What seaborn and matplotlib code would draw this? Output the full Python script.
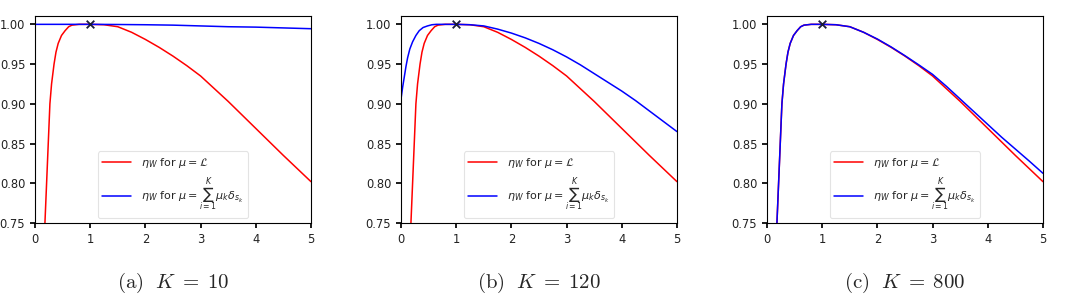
import numpy as np
import pandas as pd
import matplotlib
matplotlib.use("Agg")
import matplotlib.pyplot as plt
import seaborn as sns

# ---- data ----
panel_labels = ["(a)", "(b)", "(c)"]
K_values = [10, 120, 800]

# red: eta_W for mu = Lebesgue (same in all panels)
red_x = [0.15, 0.18, 0.21, 0.24, 0.27, 0.30, 0.345, 0.38, 0.42, 0.48, 0.545, 0.61, 0.67, 0.8, 1.0,
         1.25, 1.5, 1.75, 2.0, 2.25, 2.5, 2.75, 3.0, 3.25, 3.5, 3.75, 4.0, 4.25, 4.5, 4.75, 5.0]
red_y = [0.69, 0.75, 0.80, 0.85, 0.90, 0.925, 0.95, 0.965, 0.976, 0.986, 0.992, 0.997, 0.999, 1.0, 1.0,
         0.9995, 0.997, 0.990, 0.981, 0.971, 0.960, 0.948, 0.935, 0.919, 0.903, 0.886, 0.869, 0.852, 0.835, 0.8185, 0.802]

# blue: eta_W for discrete mu, one per panel
blue10_x = [0.0, 0.5, 1.0, 1.5, 2.0, 2.5, 3.0, 3.5, 4.0, 4.5, 5.0]
blue10_y = [1.0, 1.0, 1.0, 0.9998, 0.9995, 0.999, 0.998, 0.997, 0.9965, 0.9955, 0.9945]

blue120_x = [0.0, 0.03, 0.06, 0.09, 0.12, 0.16, 0.21, 0.27, 0.33, 0.40, 0.48, 0.56, 0.64, 0.8, 1.0,
             1.25, 1.5, 1.75, 2.0, 2.25, 2.5, 2.75, 3.0, 3.25, 3.5, 3.75, 4.0, 4.25, 4.5, 4.75, 5.0]
blue120_y = [0.906, 0.921, 0.934, 0.947, 0.958, 0.969, 0.978, 0.986, 0.992, 0.996, 0.998, 0.9995, 1.0, 1.0, 1.0,
             0.9995, 0.998, 0.994, 0.989, 0.983, 0.976, 0.968, 0.959, 0.949, 0.938, 0.927, 0.916, 0.904, 0.891, 0.878, 0.865]

blue800_x = [0.15, 0.18, 0.21, 0.24, 0.27, 0.30, 0.345, 0.38, 0.42, 0.48, 0.545, 0.61, 0.67, 0.8, 1.0,
             1.25, 1.5, 1.75, 2.0, 2.25, 2.5, 2.75, 3.0, 3.25, 3.5, 3.75, 4.0, 4.25, 4.5, 4.75, 5.0]
blue800_y = [0.69, 0.75, 0.80, 0.85, 0.90, 0.925, 0.95, 0.965, 0.976, 0.986, 0.992, 0.997, 0.999, 1.0, 1.0,
             0.9995, 0.997, 0.990, 0.9815, 0.9715, 0.9605, 0.949, 0.937, 0.922, 0.906, 0.890, 0.874, 0.858, 0.843, 0.828, 0.8125]

blue_x = [blue10_x, blue120_x, blue800_x]
blue_y = [blue10_y, blue120_y, blue800_y]

optimum_x = [1.0]
optimum_y = [1.0]

x_ticks = [0, 1, 2, 3, 4, 5]
y_ticks = [0.75, 0.80, 0.85, 0.90, 0.95, 1.00]

lab_red = r"$\eta_W$ for $\mu = \mathcal{L}$"
lab_blue = r"$\eta_W$ for $\mu = \sum_{i=1}^{K}\mu_k\delta_{s_k}$"

# ---- plotting ----
sns.set_theme(style="ticks", rc={
    "axes.edgecolor": "black",
    "axes.linewidth": 0.8,
    "xtick.color": "black",
    "ytick.color": "black",
    "xtick.labelcolor": "#222222",
    "ytick.labelcolor": "#222222",
    "xtick.major.size": 3.5,
    "ytick.major.size": 3.5,
    "xtick.labelsize": 8.3,
    "ytick.labelsize": 8.3,
})
plt.rcParams["mathtext.fontset"] = "dejavusans"

W, H = 1077, 296
fig = plt.figure(figsize=(W / 100, H / 100), dpi=100)

lefts = [35, 401, 767]
ax_w = 276
ax_top, ax_bot = 16, 223

for i in range(3):
    ax = fig.add_axes([lefts[i] / W, 1 - ax_bot / H, ax_w / W, (ax_bot - ax_top) / H])
    df = pd.concat([
        pd.DataFrame({"x": red_x, "y": red_y, "series": lab_red}),
        pd.DataFrame({"x": blue_x[i], "y": blue_y[i], "series": lab_blue}),
    ], ignore_index=True)
    sns.lineplot(data=df, x="x", y="y", hue="series", palette={lab_red: "red", lab_blue: "blue"},
                 linewidth=1.1, ax=ax, sort=False, estimator=None)
    sns.scatterplot(x=optimum_x, y=optimum_y, marker="x", color="#1a1a3a", s=30, linewidth=1.3,
                    ax=ax, zorder=5, clip_on=False, legend=False)
    ax.set_xlim(0, 5)
    ax.set_ylim(0.75, 1.0105)
    ax.set_xticks(x_ticks)
    ax.set_yticks(y_ticks)
    ax.set_yticklabels([f"{v:.2f}" for v in y_ticks])
    ax.set_xlabel("")
    ax.set_ylabel("")
    leg = ax.legend(loc="lower center", fontsize=8, frameon=True, handlelength=2.6,
                    borderaxespad=0.45, labelspacing=0.6, handletextpad=0.9)
    leg.get_frame().set_edgecolor("#dddddd")
    leg.get_frame().set_linewidth(0.8)

    cx = (lefts[i] + ax_w / 2) / W
    fig.text(cx, 1 - 283 / H,
             r"$\mathrm{" + panel_labels[i] + r"}\ \ K\;=\;" + str(K_values[i]) + r"$",
             ha="center", va="center", fontsize=15, math_fontfamily="cm")

fig.savefig("out.png", dpi=100)
